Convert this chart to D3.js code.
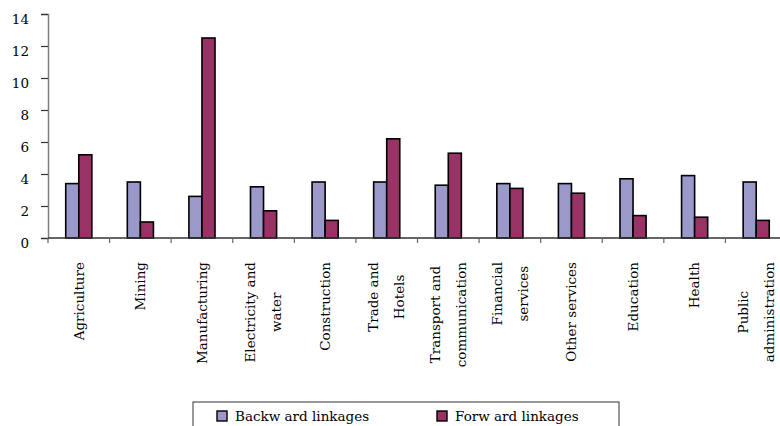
<!DOCTYPE html>
<html>
<head>
<meta charset="utf-8">
<script src="https://cdn.jsdelivr.net/npm/d3@7"></script>
<style>
  html, body { margin: 0; padding: 0; background: #fff; }
  svg { display: block; font-family: "DejaVu Serif", serif; }
</style>
</head>
<body>
<svg id="chart" width="780" height="426"></svg>
<script>
// Sectors and their linkage indices
const sectors = [
  "Agriculture", "Mining", "Manufacturing", "Electricity and\nwater",
  "Construction", "Trade and\nHotels", "Transport and\ncommunication",
  "Financial\nservices", "Other services", "Education", "Health",
  "Public\nadministration"
];
const backward = [3.4, 3.5, 2.6, 3.2, 3.5, 3.5, 3.3, 3.4, 3.4, 3.7, 3.9, 3.5];
const forward  = [5.2, 1.0, 12.5, 1.7, 1.1, 6.2, 5.3, 3.1, 2.8, 1.4, 1.3, 1.1];
const seriesNames = ["Backw ard linkages", "Forw ard linkages"];
const yTicks = [0, 2, 4, 6, 8, 10, 12, 14];

const colors = ["#9b99c9", "#993366"];

const svg = d3.select("#chart");
const plotLeft = 48, plotTop = 14, plotBottom = 238, plotRight = 787;

const x = d3.scaleBand().domain(sectors).range([plotLeft, plotRight]).padding(0);
const barW = x.bandwidth() * 0.212;
const xs = d3.scaleOrdinal().domain([0, 1]).range([-barW, 0]);
const y = d3.scaleLinear().domain([0, 14]).range([plotBottom, plotTop]);

// Bars
const rows = sectors.map((s, i) => ({ s, vals: [backward[i], forward[i]] }));
const groups = svg.append("g").selectAll("g").data(rows).join("g")
  .attr("transform", d => `translate(${x(d.s) + x.bandwidth() / 2},0)`);
groups.selectAll("rect").data(d => d.vals.map((v, k) => ({ v, k }))).join("rect")
  .attr("x", d => xs(d.k))
  .attr("y", d => y(d.v))
  .attr("width", barW)
  .attr("height", d => y(0) - y(d.v))
  .attr("fill", d => colors[d.k])
  .attr("stroke", "#000")
  .attr("stroke-width", 1.6);

// Y axis
const yAxis = svg.append("g").attr("transform", `translate(${plotLeft},0)`)
  .call(d3.axisLeft(y).tickValues(yTicks).tickSize(7).tickPadding(12));
yAxis.select(".domain").attr("stroke", "#808080").attr("stroke-width", 1.5);
yAxis.selectAll(".tick line").attr("stroke", "#333").attr("stroke-width", 1.2);
yAxis.selectAll(".tick text")
  .attr("font-family", "DejaVu Serif, serif")
  .attr("font-size", 13.5)
  .attr("fill", "#000")
  .attr("dy", "0.68em");

// X axis: boundary ticks between sectors
const xAxisG = svg.append("g").attr("transform", `translate(0,${plotBottom})`);
xAxisG.append("line").attr("x1", plotLeft).attr("x2", plotRight).attr("y1", 0).attr("y2", 0)
  .attr("stroke", "#333").attr("stroke-width", 1.4);
xAxisG.selectAll("line.tk").data(sectors).join("line").attr("class", "tk")
  .attr("x1", d => x(d)).attr("x2", d => x(d))
  .attr("y1", 0).attr("y2", 5)
  .attr("stroke", "#666").attr("stroke-width", 1.2);

// Rotated sector names, lines centered within each block
const labelTop = 262, lineGap = 26;
sectors.forEach(s => {
  const lines = s.split("\n");
  const cx = x(s) + x.bandwidth() / 2;
  const g = svg.append("g");
  const texts = lines.map((ln, i) => g.append("text")
    .attr("font-size", 13.5)
    .attr("fill", "#000")
    .attr("text-anchor", "end")
    .attr("dy", "0.35em")
    .text(ln));
  const lens = texts.map(t => t.node().getComputedTextLength());
  const maxLen = d3.max(lens);
  texts.forEach((t, i) => {
    const px = cx + (i - (lines.length - 1) / 2) * lineGap;
    const py = labelTop + (maxLen - lens[i]) / 2;
    t.attr("transform", `translate(${px},${py}) rotate(-90)`);
  });
});

// Legend
const lg = svg.append("g");
lg.append("rect").attr("x", 193).attr("y", 402).attr("width", 426).attr("height", 40)
  .attr("fill", "#fff").attr("stroke", "#333").attr("stroke-width", 1);
const legendX = [217, 437];
seriesNames.forEach((n, k) => {
  lg.append("rect").attr("x", legendX[k]).attr("y", 411).attr("width", 10).attr("height", 10)
    .attr("fill", colors[k]).attr("stroke", "#000").attr("stroke-width", 1.4);
  lg.append("text").attr("x", legendX[k] + 18).attr("y", 421)
    .attr("font-size", 13.5).attr("fill", "#000").text(n);
});
</script>
</body>
</html>
